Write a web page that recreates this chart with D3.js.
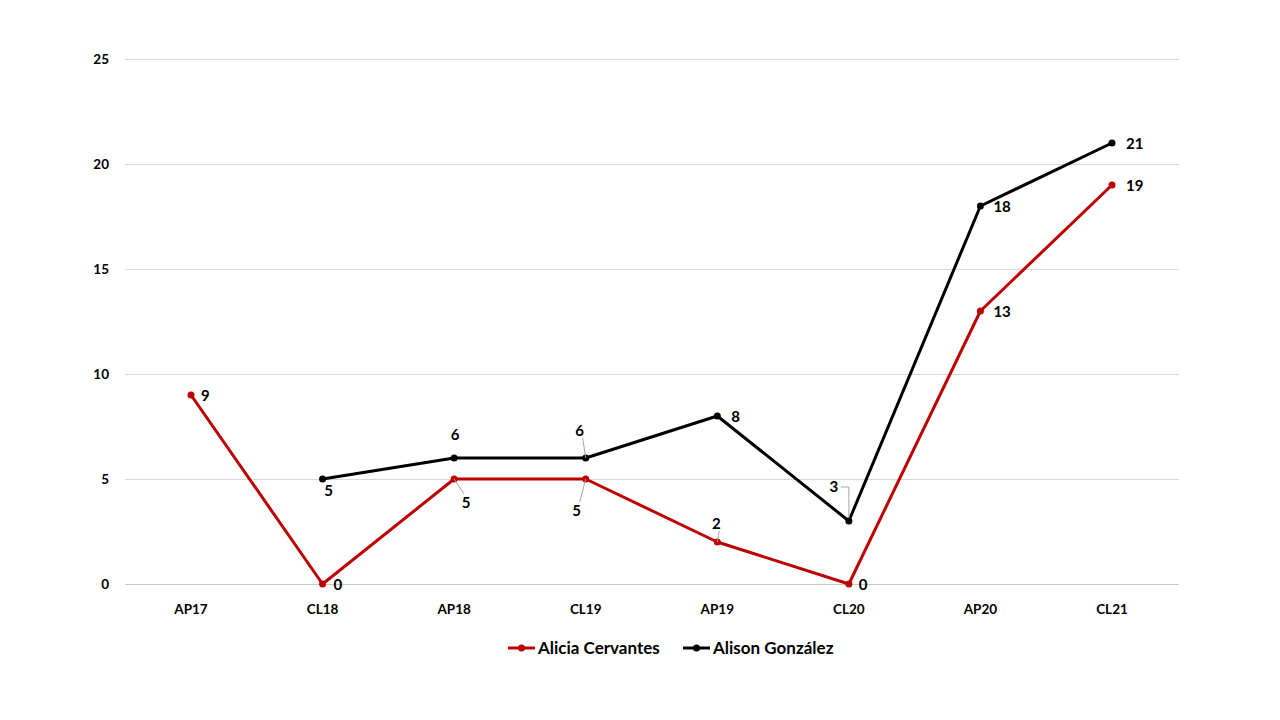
<!DOCTYPE html>
<html><head><meta charset="utf-8">
<script src="https://cdn.jsdelivr.net/npm/d3@7"></script>
<style>
body{margin:0;background:#fff;}
text{font-family:Lato,"Open Sans",sans-serif;font-weight:bold;fill:#000;}
</style></head>
<body><svg id="c" width="1280" height="720"></svg>
<script>
const categories = ["AP17","CL18","AP18","CL19","AP19","CL20","AP20","CL21"];
const alicia = [9,0,5,5,2,0,13,19];
const alison = [null,5,6,6,8,3,18,21];
const seriesNames = ["Alicia Cervantes","Alison González"];
const yTicks = [0,5,10,15,20,25];
// label placement per point: [dx, dy, leader]
const aliciaLabelPos = [[15,1,0],[16,1,0],[12,24,1],[-9,32,1],[-1,-18,1],[15,1,0],[18,1,0],[19,1,0]];
const alisonLabelPos = [null,[6,12,0],[1,-23,0],[-6,-27,1],[19,1,0],[-15,-34,2],[18,1,0],[19,1,0]];

const svg = d3.select("#c");
const colors = ["#BD0000","#000000"];
const x = d3.scalePoint().domain(categories).range([191,1112]);
const y = d3.scaleLinear().domain([0,25]).range([584,59]);

// gridlines
svg.append("g").selectAll("line").data(yTicks).join("line")
  .attr("x1",125).attr("x2",1179)
  .attr("y1",d=>y(d)+0.5).attr("y2",d=>y(d)+0.5)
  .attr("stroke",d=>d===0?"#c8c8c8":"#d9d9d9").attr("stroke-width",1);

// y tick labels
svg.append("g").selectAll("text").data(yTicks).join("text")
  .attr("x",109).attr("y",d=>y(d)).attr("dy","0.35em")
  .attr("text-anchor","end").attr("font-size",13.5).text(d=>d);

// x tick labels
svg.append("g").selectAll("text").data(categories).join("text")
  .attr("x",d=>x(d)).attr("y",609).attr("dy","0.35em")
  .attr("text-anchor","middle").attr("font-size",13.5).text(d=>d);

const series = [alicia, alison];
const labelPos = [aliciaLabelPos, alisonLabelPos];
series.forEach((vals,si)=>{
  const pts = categories.map((c,i)=>({c,v:vals[i],lp:labelPos[si][i]})).filter(p=>p.v!=null);
  const line = d3.line().x(p=>x(p.c)).y(p=>y(p.v));
  svg.append("path").attr("d",line(pts)).attr("fill","none")
    .attr("stroke",colors[si]).attr("stroke-width",3).attr("stroke-linejoin","round");
  svg.append("g").selectAll("circle").data(pts).join("circle")
    .attr("cx",p=>x(p.c)).attr("cy",p=>y(p.v)).attr("r",3.5).attr("fill",colors[si]);
  // leaders
  pts.forEach(p=>{
    const px=x(p.c), py=y(p.v), lx=px+p.lp[0], ly=py+p.lp[1];
    if(p.lp[2]===1){
      const dirY = p.lp[1]>0? -9 : 7;
      svg.append("line").attr("x1",px).attr("y1",py).attr("x2",lx+(p.lp[0]>0?-2:3)).attr("y2",ly+dirY)
        .attr("stroke","#a6a6a6").attr("stroke-width",1);
    } else if(p.lp[2]===2){
      svg.append("polyline").attr("points",`${lx+7},${ly} ${px},${ly} ${px},${py-3}`)
        .attr("fill","none").attr("stroke","#a6a6a6").attr("stroke-width",1);
    }
  });
  svg.append("g").selectAll("text").data(pts).join("text")
    .attr("x",p=>x(p.c)+p.lp[0]).attr("y",p=>y(p.v)+p.lp[1]).attr("dy","0.35em")
    .attr("text-anchor",p=>(p.lp[0]>12?"start":"middle")).attr("font-size",15)
    .attr("dx",p=>p.lp[0]>12?-5:0)
    .text(p=>p.v);
});

// legend
const legX = [508,683];
seriesNames.forEach((n,i)=>{
  const g = svg.append("g");
  g.append("line").attr("x1",legX[i]).attr("x2",legX[i]+27).attr("y1",648).attr("y2",648)
    .attr("stroke",colors[i]).attr("stroke-width",3);
  g.append("circle").attr("cx",legX[i]+13.5).attr("cy",648).attr("r",3.5).attr("fill",colors[i]);
  g.append("text").attr("x",legX[i]+30).attr("y",648).attr("dy","0.35em")
    .attr("font-size",17).text(n);
});
</script></body></html>
